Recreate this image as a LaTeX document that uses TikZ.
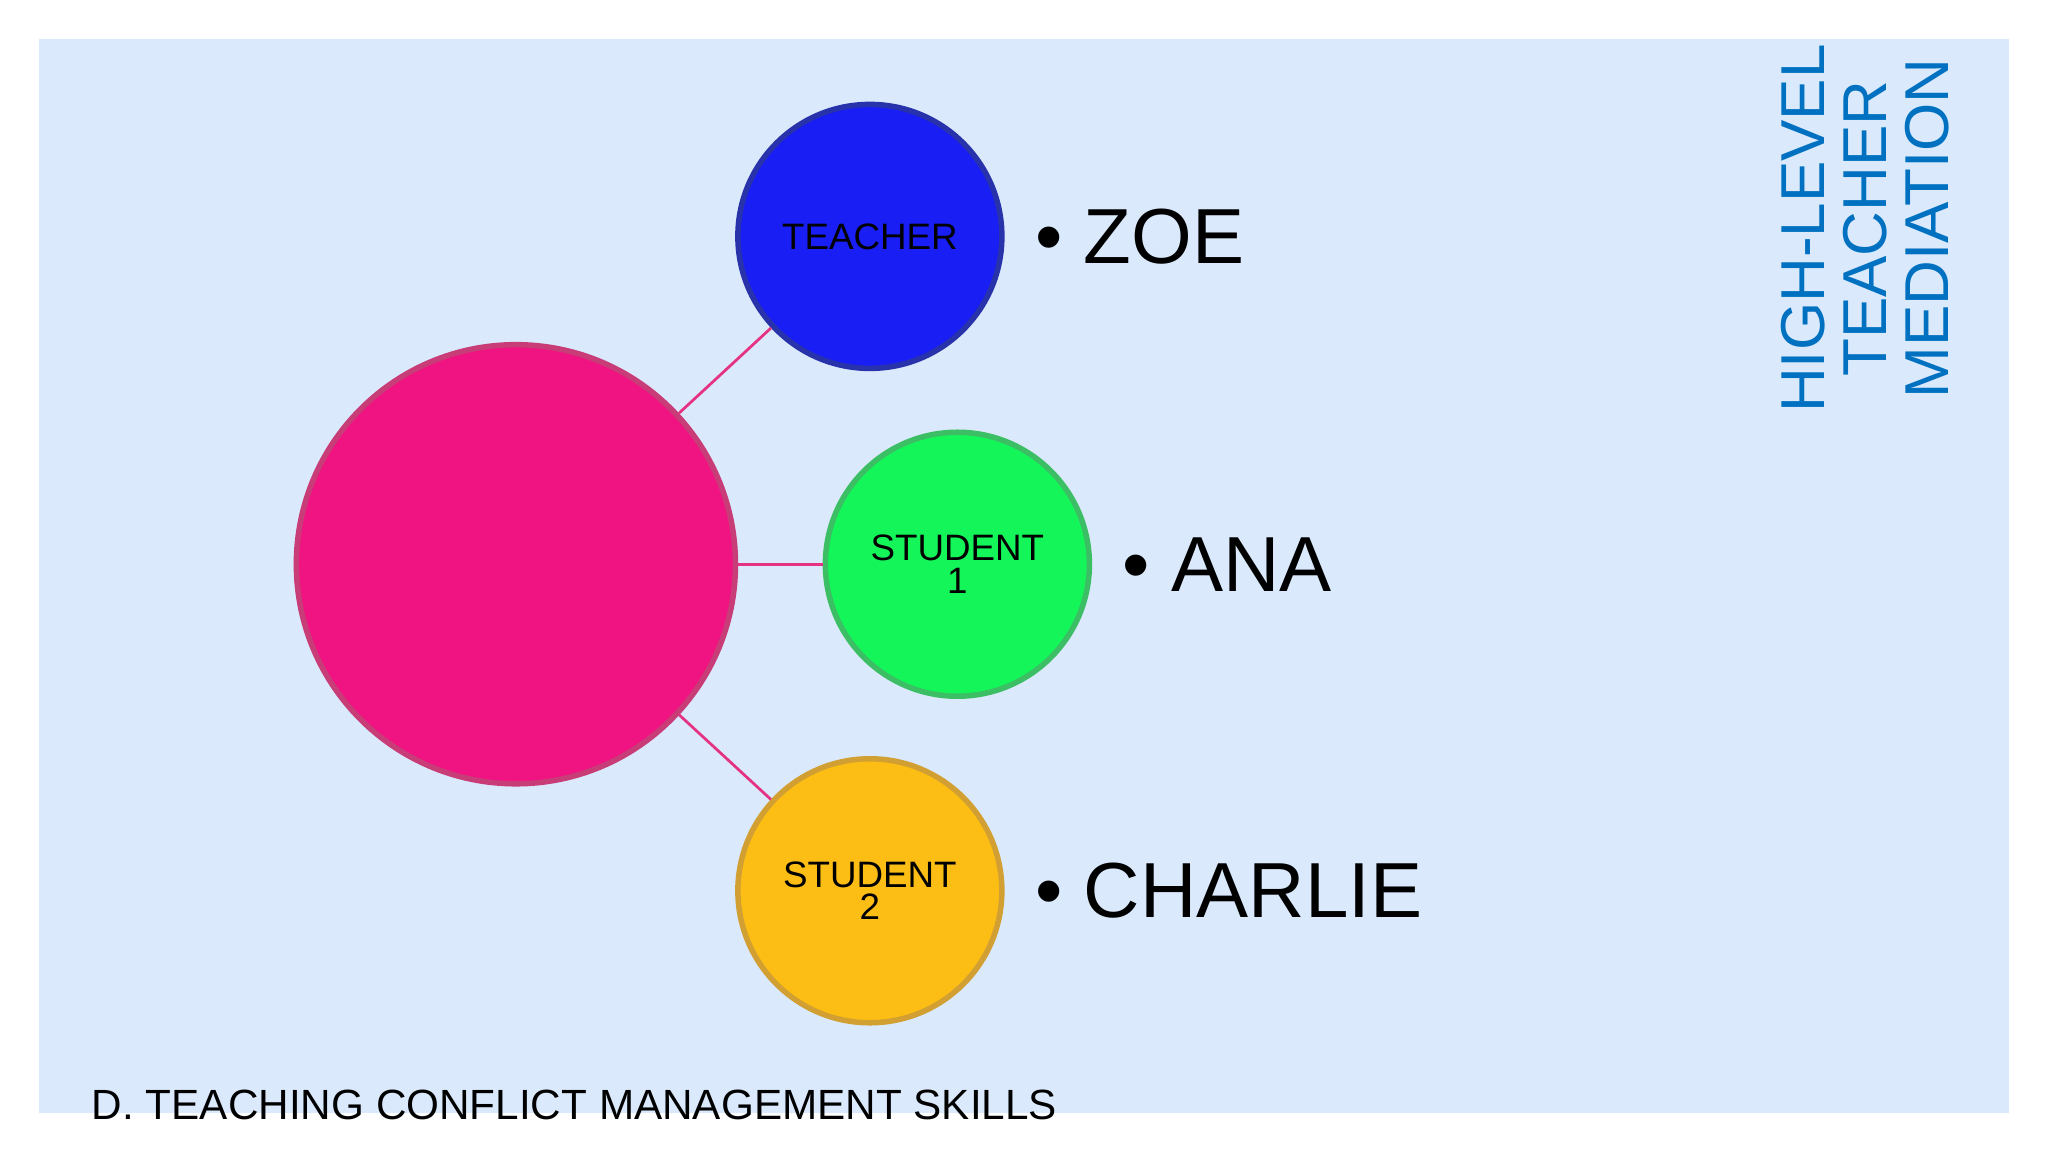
\documentclass[tikz,border=0pt]{standalone}
\usepackage{fontspec}
\setmainfont{Liberation Sans}
\definecolor{bgblue}{RGB}{218,234,252}
\begin{document}
\begin{tikzpicture}[x=0.01cm,y=-0.01cm,
  bub/.style={circle,minimum size=#1,inner sep=0pt,align=center,font=\fontsize{8}{9}\selectfont,line width=1.2pt},
  lnk/.style={draw={rgb,255:red,230;green,50;blue,130},line width=0.6pt},
  big/.style={font=\fontsize{17}{20}\selectfont,anchor=west}]
\useasboundingbox (0,0) rectangle (1568,882);
\fill[white] (0,0) rectangle (1568,882);
\fill[bgblue] (30,30) rectangle (1538,852);
\node[bub=3.36cm,fill={rgb,255:red,240;green,20;blue,130},draw={rgb,255:red,200;green,60;blue,120}] (hub) at (395,432) {};
\node[bub=2.02cm,fill={rgb,255:red,25;green,30;blue,245},draw={rgb,255:red,40;green,50;blue,170}] (t) at (666,181) {TEACHER};
\node[bub=2.02cm,fill={rgb,255:red,20;green,245;blue,90},draw={rgb,255:red,60;green,190;blue,100}] (s1) at (733,432) {STUDENT\\[-2pt]1};
\node[bub=2.02cm,fill={rgb,255:red,252;green,190;blue,20},draw={rgb,255:red,210;green,160;blue,50}] (s2) at (666,682) {STUDENT\\[-2pt]2};
\draw[lnk] (hub) -- (t);
\draw[lnk] (hub) -- (s1);
\draw[lnk] (hub) -- (s2);
\node[big] (z) at (780,181) {\textbullet\ ZOE};
\node[big] (a) at (847,432) {\textbullet\ ANA};
\node[big] (c) at (780,682) {\textbullet\ CHARLIE};
\node[rotate=90,align=center,text={rgb,255:red,0;green,112;blue,192},font=\fontsize{13.5}{13.5}\selectfont] (h) at (1428,175) {HIGH-LEVEL\\TEACHER\\MEDIATION};
\node[anchor=west,font=\fontsize{9.2}{11}\selectfont] (d) at (58,846) {D. TEACHING CONFLICT MANAGEMENT SKILLS};
\end{tikzpicture}
\end{document}
